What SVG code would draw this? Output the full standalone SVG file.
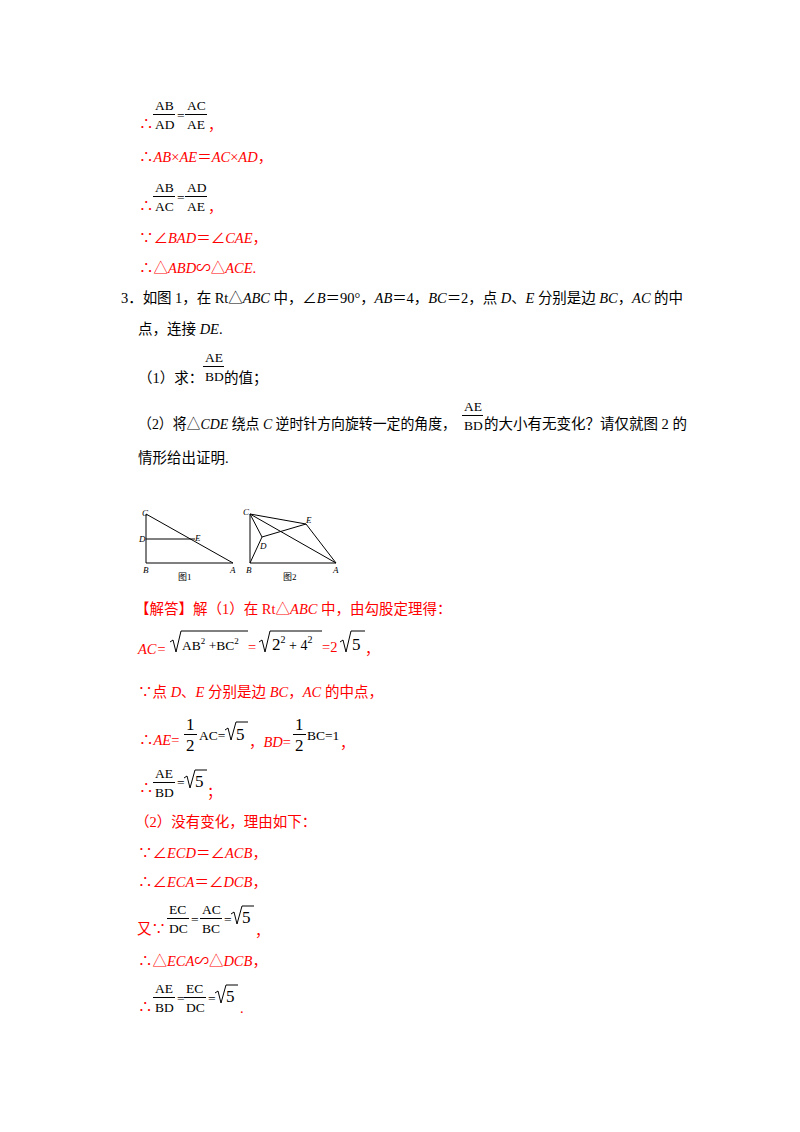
<svg xmlns="http://www.w3.org/2000/svg" width="800" height="1132" viewBox="0 0 800 1132">
<style>
text{font-family:"Liberation Serif","Noto Sans CJK SC",serif;font-size:14.5px}
.r{fill:#ff0000}
.k{fill:#000}
.i{font-style:italic}
.f{font-size:13.5px;fill:#000}
.s{font-size:17px;fill:#000}
.l{stroke:#000;stroke-width:1;fill:none}
.lb{font-size:9px;font-style:italic;fill:#000}
.cap{font-size:9px;fill:#000}
</style>
<rect width="800" height="1132" fill="#fff"/>
<g id="p1">
<text x="139" y="129" class="r">∴</text>
<text x="155" y="110" class="f">AB</text><line x1="153" y1="114.5" x2="175" y2="114.5" class="l"/><text x="155" y="129" class="f">AD</text>
<text x="177" y="120" class="f">=</text>
<text x="187" y="110" class="f">AC</text><line x1="185" y1="114.5" x2="207" y2="114.5" class="l"/><text x="187" y="129" class="f">AE</text>
<text x="208" y="130" class="r">，</text>
<text x="139" y="162" class="r">∴<tspan class="i">AB</tspan>×<tspan class="i">AE</tspan>＝<tspan class="i">AC</tspan>×<tspan class="i">AD</tspan>，</text>
<text x="139" y="211" class="r">∴</text>
<text x="155" y="192" class="f">AB</text><line x1="153" y1="196.5" x2="175" y2="196.5" class="l"/><text x="155" y="211" class="f">AC</text>
<text x="177" y="202" class="f">=</text>
<text x="187" y="192" class="f">AD</text><line x1="185" y1="196.5" x2="207" y2="196.5" class="l"/><text x="187" y="211" class="f">AE</text>
<text x="208" y="212" class="r">，</text>
<text x="139" y="243" class="r">∵∠<tspan class="i">BAD</tspan>＝∠<tspan class="i">CAE</tspan>，</text>
<text x="139" y="273" class="r">∴△<tspan class="i">ABD</tspan>∽△<tspan class="i">ACE</tspan>.</text>
</g>
<g id="q3">
<text x="121" y="303" class="k" textLength="562">3．如图 1，在 Rt△<tspan class="i">ABC</tspan> 中，∠<tspan class="i">B</tspan>＝90°，<tspan class="i">AB</tspan>＝4，<tspan class="i">BC</tspan>＝2，点 <tspan class="i">D</tspan>、<tspan class="i">E</tspan> 分别是边 <tspan class="i">BC</tspan>，<tspan class="i">AC</tspan> 的中</text>
<text x="138" y="334" class="k">点，连接 <tspan class="i">DE</tspan>.</text>
<text x="138" y="383" class="k">（1）求：</text>
<text x="205" y="362" class="f">AE</text><line x1="203" y1="366.5" x2="224" y2="366.5" class="l"/><text x="205" y="381" class="f">BD</text>
<text x="224" y="383" class="k">的值；</text>
<text x="138" y="429" class="k" textLength="318" lengthAdjust="spacingAndGlyphs">（2）将△<tspan class="i">CDE</tspan> 绕点 <tspan class="i">C</tspan> 逆时针方向旋转一定的角度，</text>
<text x="464" y="411" class="f">AE</text><line x1="462" y1="415.5" x2="483" y2="415.5" class="l"/><text x="464" y="430" class="f">BD</text>
<text x="484" y="429" class="k">的大小有无变化？请仅就图 2 的</text>
<text x="138" y="463" class="k">情形给出证明.</text>
</g>
<g id="fig1">
<path class="l" d="M146 514 L146 563 L233 563 Z M146 539 L195 539"/>
<text x="142" y="516" class="lb">C</text>
<text x="139" y="542" class="lb">D</text>
<text x="195" y="541" class="lb">E</text>
<text x="143" y="573" class="lb">B</text>
<text x="230" y="573" class="lb">A</text>
<text x="178" y="580" class="cap">图1</text>
</g>
<g id="fig2">
<path class="l" d="M250 514 L250 563 L336 563 L306 524 Z M250 514 L336 563 M250 514 L262 537 L250 563 M262 537 L306 524"/>
<text x="243" y="515" class="lb">C</text>
<text x="306" y="523" class="lb">E</text>
<text x="260" y="549" class="lb">D</text>
<text x="246" y="573" class="lb">B</text>
<text x="333" y="573" class="lb">A</text>
<text x="283" y="580" class="cap">图2</text>
</g>
<g id="sol">
<text x="135" y="614" class="r">【解答】解（1）在 Rt△<tspan class="i">ABC</tspan> 中，由勾股定理得：</text>
<text x="138" y="654" class="r i">AC=</text>
<path class="l" d="M170 642 L173 640 L176 652 L181 631 L248 631"/>
<text x="182" y="650" class="f">AB<tspan font-size="9" dy="-6">2</tspan><tspan dy="6"> +BC</tspan><tspan font-size="9" dy="-6">2</tspan></text>
<text x="248" y="652" class="r">=</text>
<path class="l" d="M259 642 L262 640 L265 652 L270 631 L322 631"/>
<text x="272" y="650" class="s">2<tspan font-size="10" dy="-7">2</tspan><tspan dy="7" font-size="14"> + 4</tspan><tspan font-size="10" dy="-7">2</tspan></text>
<text x="322" y="652" class="r">=2</text>
<path class="l" d="M340 642 L343 640 L346 652 L351 631 L365 631"/>
<text x="352" y="650" class="s">5</text>
<text x="365" y="654" class="r">，</text>
<text x="138" y="697" class="r">∵点 <tspan class="i">D</tspan>、<tspan class="i">E</tspan> 分别是边 <tspan class="i">BC</tspan>，<tspan class="i">AC</tspan> 的中点，</text>
<text x="139" y="745" class="r">∴<tspan class="i">AE</tspan>=</text>
<text x="186" y="730" class="s">1</text><line x1="184" y1="734.5" x2="197" y2="734.5" class="l"/><text x="186" y="751" class="s">2</text>
<text x="199" y="740" class="f">AC=</text>
<path class="l" d="M225 730 L228 728 L231 740 L236 722 L248 722"/>
<text x="236" y="740" class="s">5</text>
<text x="249" y="747" class="r">，<tspan class="i">BD</tspan>=</text>
<text x="295" y="730" class="s">1</text><line x1="293" y1="734.5" x2="306" y2="734.5" class="l"/><text x="295" y="751" class="s">2</text>
<text x="307" y="740" class="f">BC=1</text>
<text x="340" y="748" class="r">，</text>
<text x="139" y="793" class="r">∴</text>
<text x="155" y="778" class="f">AE</text><line x1="153" y1="782.5" x2="175" y2="782.5" class="l"/><text x="155" y="797" class="f">BD</text>
<text x="177" y="787" class="f">=</text>
<path class="l" d="M184 778 L187 776 L190 788 L195 770 L207 770"/>
<text x="195" y="787" class="s">5</text>
<text x="207" y="797" class="r">；</text>
<text x="135" y="827" class="r">（2）没有变化，理由如下：</text>
<text x="138" y="858" class="r">∵∠<tspan class="i">ECD</tspan>＝∠<tspan class="i">ACB</tspan>，</text>
<text x="138" y="887" class="r">∴∠<tspan class="i">ECA</tspan>＝∠<tspan class="i">DCB</tspan>，</text>
<text x="137" y="934" class="r">又∵</text>
<text x="169" y="914" class="f">EC</text><line x1="167" y1="918.5" x2="189" y2="918.5" class="l"/><text x="169" y="933" class="f">DC</text>
<text x="191" y="924" class="f">=</text>
<text x="202" y="914" class="f">AC</text><line x1="200" y1="918.5" x2="222" y2="918.5" class="l"/><text x="202" y="933" class="f">BC</text>
<text x="224" y="924" class="f">=</text>
<path class="l" d="M231 914 L234 912 L237 924 L242 906 L254 906"/>
<text x="242" y="923" class="s">5</text>
<text x="255" y="936" class="r">，</text>
<text x="138" y="966" class="r">∴△<tspan class="i">ECA</tspan>∽△<tspan class="i">DCB</tspan>，</text>
<text x="138" y="1012" class="r">∴</text>
<text x="155" y="993" class="f">AE</text><line x1="153" y1="997.5" x2="175" y2="997.5" class="l"/><text x="155" y="1012" class="f">BD</text>
<text x="177" y="1003" class="f">=</text>
<text x="186" y="993" class="f">EC</text><line x1="184" y1="997.5" x2="206" y2="997.5" class="l"/><text x="186" y="1012" class="f">DC</text>
<text x="208" y="1003" class="f">=</text>
<path class="l" d="M215 993 L218 991 L221 1003 L226 985 L238 985"/>
<text x="226" y="1002" class="s">5</text>
<text x="240" y="1013" class="r">.</text>
</g>
</svg>
